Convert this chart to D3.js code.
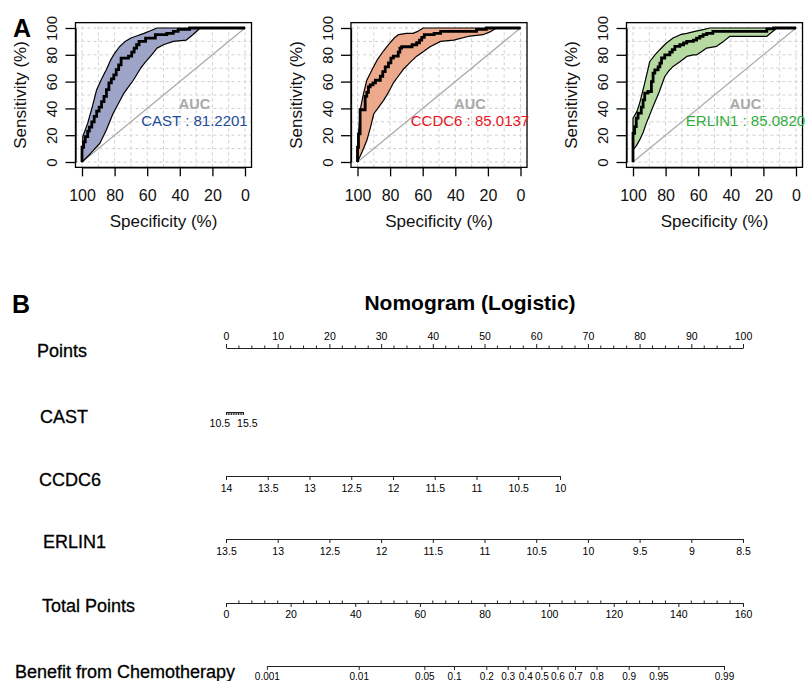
<!DOCTYPE html>
<html>
<head>
<meta charset="utf-8">
<script src="https://cdn.jsdelivr.net/npm/d3@7"></script>
<style>
  body { margin: 0; background: #fff; }
  text { font-family: "Liberation Sans", Arial, sans-serif; }
</style>
</head>
<body>
<svg width="808" height="681"></svg>
<script>
// ---- panel A : ROC curves, [specificity, sensitivity] in % ----
const markers = ["CAST", "CCDC6", "ERLIN1"];
const aucValues = ["81.2201", "85.0137", "85.0820"];

const castRoc = [[100,0],[100,6],[99,11],[98,15],[96.5,19],[95.5,23],[94,26],[92.5,30],[91,34],[89.5,38],[88,41],[86.5,45],[85,49],[83.5,54],[82,59],[80.5,62],[79,65],[77.5,69],[76,72.5],[74,77.5],[71.5,77.5],[69.5,79],[68,82],[66.5,85],[65,87.5],[63.5,90],[61,90],[58,92.5],[55,92.5],[52,95],[48,95],[44,96],[41,97.5],[40,99],[34,99],[30,100],[0,100]];
const castUpper = [[100,0],[99.5,19],[96.5,29],[93.5,42],[91,54],[88,62],[85,69],[82.5,76],[80,81],[77,86],[73.5,90],[70,92.5],[66.5,94],[62,96],[58,98],[54,100],[0,100]];
const castLower = [[100,0],[95,6],[89,14],[85,24],[81,36],[77.5,44],[74.5,51],[71.5,56],[68.5,61],[66,66],[64,70],[61.5,74],[59,77.5],[56.5,81],[54,85],[50,87.5],[44,90],[36,91],[32,95],[27.5,100],[0,100]];

const ccdc6Roc = [[100,0],[99.4,11],[98.4,21],[97.3,39],[95.3,39],[94.3,49],[93.3,52],[92.2,56],[90.5,57.5],[89,59],[86,61],[84.5,64],[83,67.5],[81,71],[79.5,74],[78,77.5],[75,79],[74,82],[72.9,85],[69.8,86],[66.5,86],[63.7,87.5],[62,89],[60.6,91],[59,93],[57.6,95],[53,95],[49,96],[45,97.5],[41,97.5],[27,97.5],[26,99],[21,99],[17.8,100],[0,100]];
const ccdc6Upper = [[100,0],[99.4,21],[98,41],[96.5,50],[94.3,61],[91,69],[88,76],[84,83],[80,89],[77.5,92.5],[75,95],[69.8,96],[66,96],[63,97.5],[59.6,100],[0,100]];
const ccdc6Lower = [[100,0],[97,8],[94.3,16],[92,26],[90,36],[87,41],[84,46],[81,52],[78,59],[75,64],[72,69],[68,74],[63.7,79],[59.5,82.5],[55.5,86],[49,90],[41,91],[31,94],[23,95],[18,97.5],[14.7,100],[0,100]];

const erlin1Roc = [[100,0],[100,16.5],[99,21.4],[98,26.4],[96.9,32.7],[94.9,36.4],[93.8,41],[92.8,46.4],[90.8,51.4],[88.7,52.6],[87.7,60],[86.6,66.3],[84.6,68.8],[83.5,71],[82.5,73.8],[80.5,77.6],[77.4,80],[75.9,82],[74.3,83.8],[71.3,86.3],[69,87.5],[67,88.8],[63,90],[61,91],[59,92.5],[57,93.8],[54.8,95],[51,96],[48.7,97.5],[17.9,97.5],[13.8,99.3],[9.7,100],[0,100]];
const erlin1Upper = [[100,0],[100,32.7],[97.5,38],[95.9,44],[93,58],[89.7,75],[86.5,80],[83.6,83.8],[79.5,88.8],[75.4,92.5],[71,95],[67,96],[62,97.5],[57,98.8],[52.8,100],[0,100]];
const erlin1Lower = [[100,0],[100,9],[98,12],[95.9,16.5],[93.8,22],[91.8,29],[89.8,35],[87.7,41.4],[84,52],[80.5,63.8],[78,68],[75.4,71.3],[71,75],[67,78.8],[63,80],[60.9,80],[57.8,82.5],[54.8,85],[48.7,86.3],[44.5,90],[40.5,93.8],[17.9,93.8],[11.7,100],[0,100]];

const rocTicks = [100, 80, 60, 40, 20, 0];

// ---- panel B : nomogram ----
const pointsTicks = d3.range(0, 101, 10);
const castTicks = d3.range(10.5, 15.51, 0.5);
const castRange = [10.5, 15.5], castPoints = 3.3;
const ccdc6Ticks = [14, 13.5, 13, 12.5, 12, 11.5, 11, 10.5, 10];
const ccdc6Range = [14, 10], ccdc6Points = 64.6;
const erlin1Ticks = [13.5, 13, 12.5, 12, 11.5, 11, 10.5, 10, 9.5, 9, 8.5];
const erlin1Range = [13.5, 8.5], erlin1Points = 100;
const totalTicks = d3.range(0, 161, 20);
const benefitTicks = [0.001, 0.01, 0.05, 0.1, 0.2, 0.3, 0.4, 0.5, 0.6, 0.7, 0.8, 0.9, 0.95, 0.99];
const benefitTP0 = 97.6;      // total points at probability 0.5
const benefitPerLogit = 12.3; // total points per logit unit

const svg = d3.select("svg");
const fills = ["#9ea3c8", "#eda98b", "#b6daa2"];
const aucColors = ["#1e4c9a", "#e8141b", "#2fae3a"];
const rocSets = [[castRoc, castUpper, castLower], [ccdc6Roc, ccdc6Upper, ccdc6Lower], [erlin1Roc, erlin1Upper, erlin1Lower]];

svg.append("text").attr("x", 13).attr("y", 37).attr("font-size", 25).attr("font-weight", "bold").text("A");

markers.forEach((name, i) => {
  const left = 82 + i * 275.5;
  const x = d3.scaleLinear().domain([100, 0]).range([left, left + 163]);
  const y = d3.scaleLinear().domain([0, 100]).range([162, 28]);
  const g = svg.append("g");

  // dashed grid
  const grid = d3.range(0, 101, 10);
  g.selectAll(".vg").data(grid).enter().append("line")
    .attr("x1", d => x(d)).attr("x2", d => x(d))
    .attr("y1", y(-4)).attr("y2", y(104))
    .attr("stroke", "#cfcfcf").attr("stroke-dasharray", "3,3");
  g.selectAll(".hg").data(grid).enter().append("line")
    .attr("x1", x(104)).attr("x2", x(-4))
    .attr("y1", d => y(d)).attr("y2", d => y(d))
    .attr("stroke", "#cfcfcf").attr("stroke-dasharray", "3,3");

  // chance line
  g.append("line")
    .attr("x1", x(100)).attr("y1", y(0)).attr("x2", x(0)).attr("y2", y(100))
    .attr("stroke", "#a8a8a8").attr("stroke-width", 1.2);

  const [roc, upper, lower] = rocSets[i];
  const line = d3.line().x(d => x(d[0])).y(d => y(d[1]));
  // CI band
  g.append("path")
    .attr("d", line(upper.concat(lower.slice().reverse())) + "Z")
    .attr("fill", fills[i]).attr("stroke", "#000").attr("stroke-width", 1.2)
    .attr("stroke-linejoin", "round");
  // ROC curve
  g.append("path")
    .attr("d", line.curve(d3.curveStepBefore)(roc))
    .attr("fill", "none").attr("stroke", "#000").attr("stroke-width", 2.8);

  // box
  g.append("rect")
    .attr("x", x(104)).attr("y", y(104))
    .attr("width", x(-4) - x(104)).attr("height", y(-4) - y(104))
    .attr("fill", "none").attr("stroke", "#000").attr("stroke-width", 1.3);

  // axes
  const xa = g.append("g").attr("transform", `translate(0,${y(-4)})`)
    .call(d3.axisBottom(x).tickValues(rocTicks).tickSize(9).tickPadding(13).tickSizeOuter(0));
  xa.selectAll("text").attr("font-size", 16).attr("font-family", "Liberation Sans, Arial, sans-serif").attr("fill", "#111");
  const ya = g.append("g").attr("transform", `translate(${x(104)},0)`)
    .call(d3.axisLeft(y).tickValues(rocTicks).tickSize(10).tickSizeOuter(0));
  ya.selectAll("text")
    .attr("transform", "rotate(-90)").attr("text-anchor", "middle")
    .attr("x", 0).attr("y", -18).attr("dy", 0)
    .attr("font-size", 15).attr("font-family", "Liberation Sans, Arial, sans-serif").attr("fill", "#111");
  g.selectAll(".domain, .tick line").attr("stroke", "#000").attr("stroke-width", 1.3);

  g.append("text").attr("x", (x(100) + x(0)) / 2).attr("y", 227)
    .attr("text-anchor", "middle").attr("font-size", 17).attr("fill", "#111").text("Specificity (%)");
  g.append("text").attr("transform", `translate(${left - 56},${(y(0) + y(100)) / 2}) rotate(-90)`)
    .attr("text-anchor", "middle").attr("font-size", 17).attr("fill", "#111").text("Sensitivity (%)");

  // AUC label
  g.append("text").attr("x", x(31)).attr("y", y(40) + 1)
    .attr("text-anchor", "middle").attr("font-size", 14.5).attr("font-weight", "bold")
    .attr("fill", "#a9a9a9").text("AUC");
  g.append("text").attr("x", x(31)).attr("y", y(40) + 18)
    .attr("text-anchor", "middle").attr("font-size", 15)
    .attr("fill", aucColors[i]).text(`${name} : ${aucValues[i]}`);
});

// ---------------- nomogram ----------------
svg.append("text").attr("x", 12).attr("y", 313).attr("font-size", 25).attr("font-weight", "bold").text("B");
svg.append("text").attr("x", 470).attr("y", 310).attr("text-anchor", "middle")
  .attr("font-size", 21).attr("font-weight", "bold").text("Nomogram (Logistic)");

const ptsX = d3.scaleLinear().domain([0, 100]).range([226, 743]);
const totalX = d3.scaleLinear().domain([0, 160]).range([226, 743]);
const ink = "#222";

function style(sel, size) {
  sel.selectAll(".domain, .tick line").attr("stroke", ink).attr("stroke-width", 1);
  sel.selectAll("text").attr("font-size", size).attr("fill", "#000")
    .attr("font-family", "Liberation Sans, Arial, sans-serif");
}
function rowLabel(txt, x, y) {
  svg.append("text").attr("x", x).attr("y", y).attr("font-size", 18).attr("fill", "#000")
    .attr("stroke", "#000").attr("stroke-width", 0.3).text(txt);
}

// Points
rowLabel("Points", 37, 357);
const pa = svg.append("g").attr("transform", "translate(0,348)")
  .call(d3.axisTop(ptsX).tickValues(pointsTicks).tickSize(4).tickPadding(4).tickSizeOuter(0));
style(pa, 10.5);
pa.selectAll(".minor").data(d3.range(0, 100, 2.5).filter(d => d % 10 !== 0)).enter().append("line")
  .attr("x1", d => ptsX(d)).attr("x2", d => ptsX(d)).attr("y1", 0).attr("y2", -2.5)
  .attr("stroke", ink);

// CAST
rowLabel("CAST", 40, 423);
const castX = d3.scaleLinear().domain(castRange).range([ptsX(0), ptsX(castPoints)]);
const ca = svg.append("g").attr("transform", "translate(0,412)")
  .call(d3.axisBottom(castX).tickValues(castTicks).tickSize(3).tickFormat("").tickSizeOuter(0));
style(ca, 10);
svg.append("text").attr("x", castX(castRange[0]) + 4).attr("y", 427).attr("text-anchor", "end")
  .attr("font-size", 10.5).attr("fill", "#000").text(castRange[0]);
svg.append("text").attr("x", castX(castRange[1]) - 6).attr("y", 427).attr("text-anchor", "start")
  .attr("font-size", 10.5).attr("fill", "#000").text(castRange[1]);

// CCDC6
rowLabel("CCDC6", 39, 486);
const ccX = d3.scaleLinear().domain(ccdc6Range).range([ptsX(0), ptsX(ccdc6Points)]);
const cc = svg.append("g").attr("transform", "translate(0,476)")
  .call(d3.axisBottom(ccX).tickValues(ccdc6Ticks).tickSize(4).tickPadding(5).tickFormat(d => d).tickSizeOuter(0));
style(cc, 10.5);

// ERLIN1
rowLabel("ERLIN1", 43, 548);
const erX = d3.scaleLinear().domain(erlin1Range).range([ptsX(0), ptsX(erlin1Points)]);
const er = svg.append("g").attr("transform", "translate(0,539)")
  .call(d3.axisBottom(erX).tickValues(erlin1Ticks).tickSize(4).tickPadding(5).tickFormat(d => d).tickSizeOuter(0));
style(er, 10.5);

// Total Points
rowLabel("Total Points", 42, 612);
const tp = svg.append("g").attr("transform", "translate(0,603)")
  .call(d3.axisBottom(totalX).tickValues(totalTicks).tickSize(4).tickPadding(4).tickSizeOuter(0));
style(tp, 10.5);
tp.selectAll(".minor").data(d3.range(0, 160, 4).filter(d => d % 20 !== 0)).enter().append("line")
  .attr("x1", d => totalX(d)).attr("x2", d => totalX(d)).attr("y1", 0).attr("y2", -2.5)
  .attr("stroke", ink);

// Benefit from Chemotherapy (logit scale on total points)
rowLabel("Benefit from Chemotherapy", 15, 678);
const logit = p => Math.log(p / (1 - p));
const probX = p => totalX(benefitTP0 + benefitPerLogit * logit(p));
const bx = d3.scaleLinear()
  .domain([logit(benefitTicks[0]), logit(benefitTicks[benefitTicks.length - 1])])
  .range([probX(benefitTicks[0]), probX(benefitTicks[benefitTicks.length - 1])]);
const bn = svg.append("g").attr("transform", "translate(0,666)")
  .call(d3.axisBottom(bx).tickValues(benefitTicks.map(logit)).tickSize(4).tickPadding(3)
    .tickFormat((d, i) => benefitTicks[i]).tickSizeOuter(0));
style(bn, 10);
</script>
</body>
</html>
